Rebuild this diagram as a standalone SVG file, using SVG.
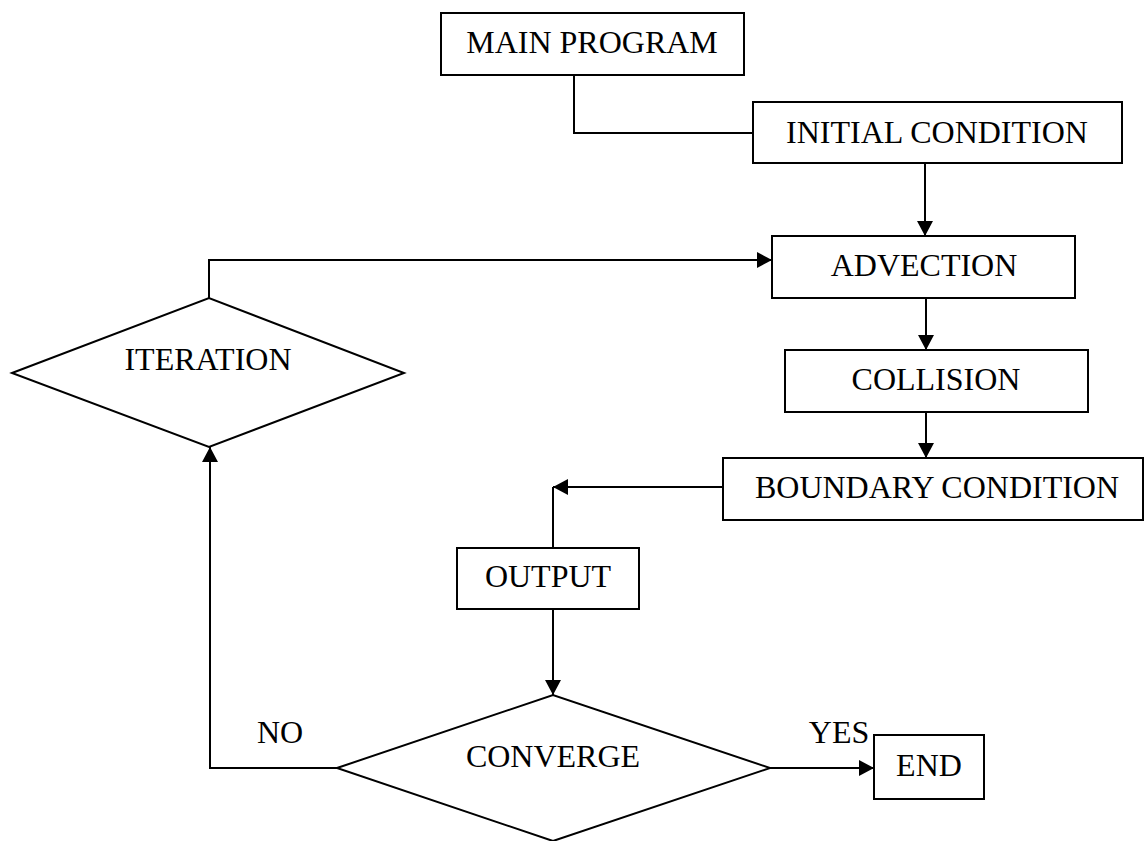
<svg xmlns="http://www.w3.org/2000/svg" width="1144" height="841" viewBox="0 0 1144 841">
<style>
.box{fill:#fff;stroke:#000;stroke-width:2}
.t{font-family:"Liberation Serif","Times New Roman",serif;font-size:32px;fill:#000;text-anchor:middle}
.c{fill:none;stroke:#000;stroke-width:2}
</style>
<defs>
<marker id="ah" viewBox="0 0 15 16" refX="15" refY="8" markerWidth="15" markerHeight="16" markerUnits="userSpaceOnUse" orient="auto">
<path d="M0,0 L15,8 L0,16 z" fill="#000"/>
</marker>
</defs>
<rect width="1144" height="841" fill="#fff"/>
<g id="connectors">
<path class="c" d="M574,75 V133 H753"/>
<path class="c" d="M925,163 V236" marker-end="url(#ah)"/>
<path class="c" d="M926,298 V350" marker-end="url(#ah)"/>
<path class="c" d="M926,412 V458" marker-end="url(#ah)"/>
<path class="c" d="M723,487 H553" marker-end="url(#ah)"/>
<path class="c" d="M553,487 V548"/>
<path class="c" d="M553,609 V695" marker-end="url(#ah)"/>
<path class="c" d="M770,768 H874" marker-end="url(#ah)"/>
<path class="c" d="M337,768 H210 V447" marker-end="url(#ah)"/>
<path class="c" d="M209,298 V260 H772" marker-end="url(#ah)"/>
</g>
<g id="main">
<rect class="box" x="441" y="13" width="303" height="62"/>
<text class="t" x="592" y="53">MAIN PROGRAM</text>
</g>
<g id="initial">
<rect class="box" x="753" y="102" width="369" height="61"/>
<text class="t" x="937" y="143">INITIAL CONDITION</text>
</g>
<g id="advection">
<rect class="box" x="772" y="236" width="303" height="62"/>
<text class="t" x="924" y="276">ADVECTION</text>
</g>
<g id="collision">
<rect class="box" x="785" y="350" width="303" height="62"/>
<text class="t" x="936" y="390">COLLISION</text>
</g>
<g id="boundary">
<rect class="box" x="723" y="458" width="420" height="62"/>
<text class="t" x="937" y="498">BOUNDARY CONDITION</text>
</g>
<g id="output">
<rect class="box" x="457" y="548" width="182" height="61"/>
<text class="t" x="548" y="587">OUTPUT</text>
</g>
<g id="iteration">
<polygon class="box" points="12,373 209,298 404,373 209,447"/>
<text class="t" x="208" y="370">ITERATION</text>
</g>
<g id="converge">
<polygon class="box" points="337,768 553,695 770,768 553,841"/>
<text class="t" x="553" y="767">CONVERGE</text>
</g>
<g id="end">
<rect class="box" x="874" y="735" width="110" height="64"/>
<text class="t" x="929" y="776">END</text>
</g>
<g id="labels">
<text class="t" x="280" y="743">NO</text>
<text class="t" x="839" y="743">YES</text>
</g>
</svg>
